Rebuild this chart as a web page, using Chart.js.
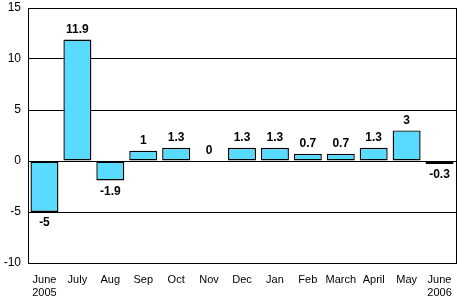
<!DOCTYPE html>
<html>
<head>
<meta charset="utf-8">
<script src="https://cdn.jsdelivr.net/npm/chart.js@4"></script>
<style>
  html, body { margin: 0; padding: 0; background: #fff; }
  #wrap { width: 459px; height: 298px; }
</style>
</head>
<body>
<div id="wrap"><canvas id="chart" width="459" height="298"></canvas></div>
<script>
// months, first and last with year underneath
const months = [["June", "2005"], "July", "Aug", "Sep", "Oct", "Nov", "Dec", "Jan", "Feb", "March", "April", "May", ["June", "2006"]]
const change = [-5, 11.9, -1.9, 1, 1.3, 0, 1.3, 1.3, 0.7, 0.7, 1.3, 3, -0.3]
const yTicks = [-10, -5, 0, 5, 10, 15]

// value labels above / below each bar
const valueLabels = {
    id: 'valueLabels',
    afterDatasetsDraw(chart) {
        const ctx = chart.ctx
        const meta = chart.getDatasetMeta(0)
        ctx.save()
        ctx.font = 'bold 12px "Liberation Sans", Arial, sans-serif'
        ctx.fillStyle = '#000'
        ctx.textAlign = 'center'
        meta.data.forEach((bar, i) => {
            const v = change[i]
            if (v < 0) {
                ctx.textBaseline = 'top'
                ctx.fillText(String(v), bar.x, bar.y + 5)
            } else {
                ctx.textBaseline = 'bottom'
                ctx.fillText(String(v), bar.x, bar.y - 4)
            }
        })
        ctx.restore()
    }
}

// frame round the plot
const frame = {
    id: 'frame',
    afterDraw(chart) {
        const a = chart.chartArea
        const ctx = chart.ctx
        ctx.save()
        ctx.strokeStyle = '#000'
        ctx.lineWidth = 1
        ctx.strokeRect(Math.round(a.left) + 0.5, Math.round(a.top) + 0.5, Math.round(a.width), Math.round(a.height))
        ctx.restore()
    }
}

new Chart(document.getElementById('chart'), {
    type: 'bar',
    data: {
        labels: months,
        datasets: [{
            data: change,
            backgroundColor: '#59dbff',
            borderColor: '#000',
            borderWidth: 1.4,
            borderSkipped: false,
            barPercentage: 0.85,
            categoryPercentage: 1
        }]
    },
    options: {
        responsive: false,
        animation: false,
        layout: { padding: { top: 8, right: 3, left: 0, bottom: 0 } },
        plugins: {
            legend: { display: false },
            tooltip: { enabled: false }
        },
        scales: {
            x: {
                grid: { display: false },
                border: { color: '#000' },
                ticks: {
                    color: '#000',
                    font: { family: '"Liberation Sans", Arial, sans-serif', size: 11, lineHeight: 1.2 },
                    maxRotation: 0,
                    autoSkip: false,
                    padding: 2
                },
                afterFit(scale) { scale.height = 35 }
            },
            y: {
                min: -10,
                max: 15,
                afterBuildTicks(scale) { scale.ticks = yTicks.map(v => ({ value: v })) },
                grid: { color: '#000', drawTicks: false },
                border: { color: '#000' },
                ticks: {
                    color: '#000',
                    font: { family: '"Liberation Sans", Arial, sans-serif', size: 12 },
                    padding: 7
                },
                afterFit(scale) {
                    scale.width = 28
                    scale.paddingTop = 0
                    scale.paddingBottom = 0
                }
            }
        }
    },
    plugins: [valueLabels, frame]
})
</script>
</body>
</html>
